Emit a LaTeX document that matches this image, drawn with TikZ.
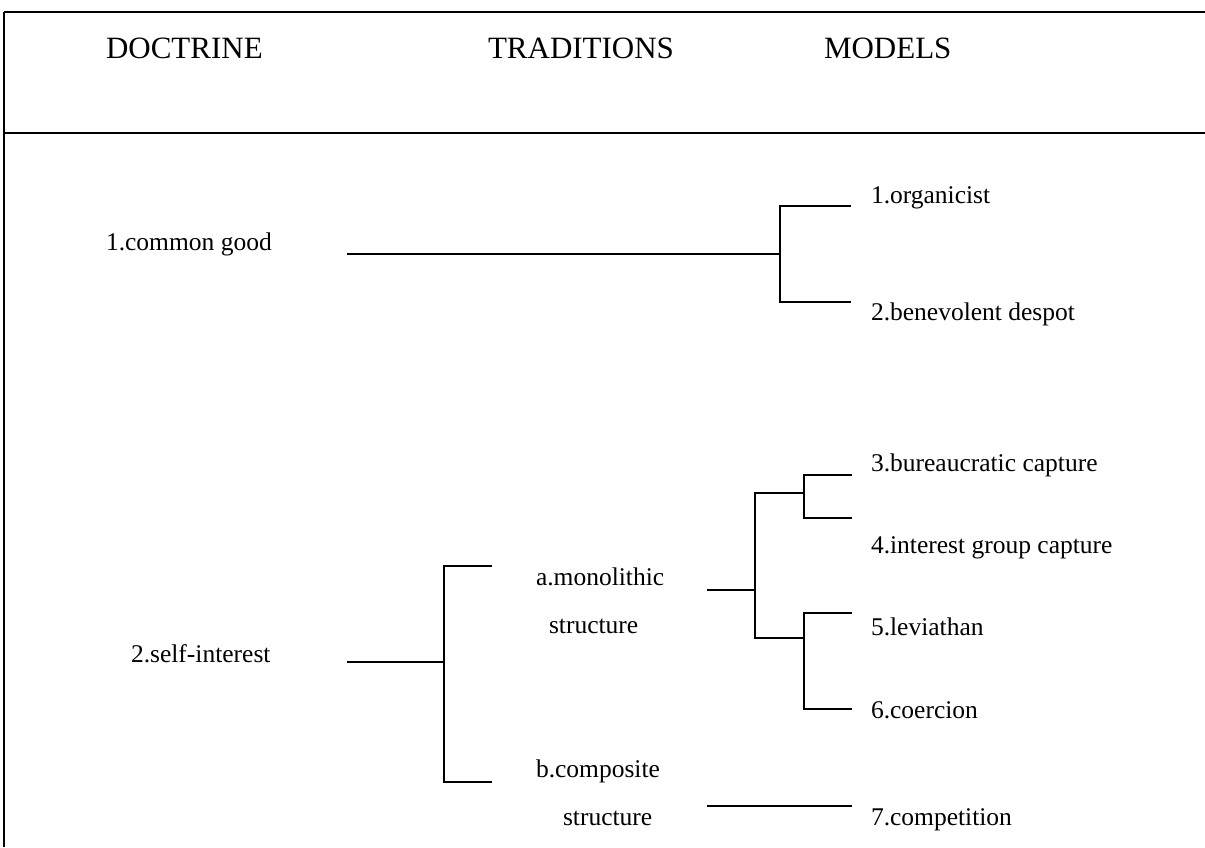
\documentclass[tikz,border=0pt]{standalone}
\usepackage{fontspec}
\setmainfont{Liberation Serif}

\begin{document}
\begin{tikzpicture}[x=1pt,y=-1pt,line width=2pt]
\tikzstyle{every node}=[inner sep=0pt, anchor=base west, font=\fontsize{25.5}{30}\selectfont]
\tikzstyle{head}=[font=\fontsize{31}{36}\selectfont]
\useasboundingbox (0,0) rectangle (1205,847);
% frame
\draw (4,12) -- (1205,12);
\draw (4,12) -- (4,847);
\draw[line width=2.8pt] (4,133) -- (1205,133);
% headings
\node (hdoc) [head] at (105,58) {DOCTRINE};
\node (htrad) [head] at (487,58) {TRADITIONS};
\node (hmod) [head] at (823,58) {MODELS};
% doctrines
\node (d1) at (105,250) {1.common good};
\node (d2) at (130,662) {2.self-interest};
% traditions
\node (ta1) at (535,585) {a.monolithic};
\node (ta2) at (548,633) {structure};
\node (tb1) at (535,777) {b.composite};
\node (tb2) at (562,825) {structure};
% models
\node (m1) at (870,203) {1.organicist};
\node (m2) at (870,320) {2.benevolent despot};
\node (m3) at (870,471) {3.bureaucratic capture};
\node (m4) at (870,553) {4.interest group capture};
\node (m5) at (870,635) {5.leviathan};
\node (m6) at (870,718) {6.coercion};
\node (m7) at (870,825) {7.competition};
% branch points
\coordinate (c1) at (347,254);
\coordinate (j1) at (780,254);
\coordinate (e1) at (851,206);
\coordinate (e2) at (851,302);
\coordinate (c2) at (347,662);
\coordinate (j2) at (444,662);
\coordinate (ea) at (492,566);
\coordinate (eb) at (492,782);
\coordinate (ca) at (707,590);
\coordinate (j3) at (755,590);
\coordinate (j4) at (804,493);
\coordinate (j5) at (804,638);
\coordinate (e3) at (852,475);
\coordinate (e4) at (852,518);
\coordinate (e5) at (852,613);
\coordinate (e6) at (852,709);
\coordinate (cb) at (707,806);
\coordinate (e7) at (852,806);
% connectors
\draw (c1) -- (j1);
\draw (e1) -| (j1) |- (e2);
\draw (c2) -- (j2);
\draw (ea) -| (j2) |- (eb);
\draw (ca) -- (j3);
\draw (j4) -| (j3) |- (j5);
\draw (e3) -| (j4) |- (e4);
\draw (e5) -| (j5) |- (e6);
\draw (cb) -- (e7);
\end{tikzpicture}
\end{document}
